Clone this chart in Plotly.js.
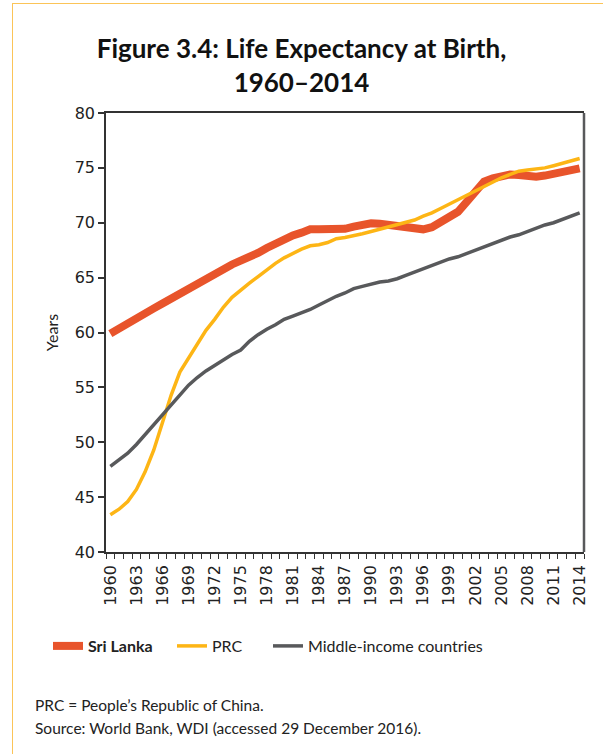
<!DOCTYPE html>
<html>
<head>
<meta charset="utf-8">
<script src="https://cdn.plot.ly/plotly-3.0.1.min.js"></script>
<style>
  body { margin: 0; background: #fff; }
  #frame { position: absolute; left: 12px; top: 3px; width: 600px; height: 760px;
           border-top: 1.5px solid #FBC458; border-left: 1.5px solid #FBC458; }
  #chart { position: absolute; left: 0; top: 0; width: 603px; height: 754px; }
</style>
</head>
<body>
<div id="frame"></div>
<div id="chart"></div>
<script>
// years 1960-2014
const years = [];
for (let y = 1960; y <= 2014; y++) years.push(y);

// life expectancy at birth
const sriLanka = [59.9, 60.4, 60.85, 61.3, 61.75, 62.2, 62.65, 63.1, 63.55, 64.0,
  64.45, 65.0, 65.45, 65.85, 66.2, 66.55, 66.85, 67.25, 67.7, 68.15,
  68.55, 68.85, 69.1, 69.4, 69.4, 69.4, 69.4, 69.45, 69.65, 69.85,
  69.95, 69.9, 69.8, 69.7, 69.6, 69.5, 69.4, 69.6, 70.1, 70.5,
  71.0, 71.9, 72.9, 73.75, 74.05, 74.3, 74.4, 74.35, 74.25, 74.2,
  74.3, 74.45, 74.6, 74.8, 74.95];
const prc = [43.4, 43.9, 44.6, 45.7, 47.3, 49.3, 51.8, 54.3, 56.4, 57.7,
  59.0, 60.2, 61.2, 62.3, 63.2, 63.9, 64.5, 65.1, 65.7, 66.3,
  66.8, 67.2, 67.6, 67.9, 68.0, 68.2, 68.55, 68.65, 68.8, 69.0,
  69.2, 69.4, 69.6, 69.85, 70.05, 70.25, 70.6, 70.9, 71.3, 71.7,
  72.1, 72.5, 72.9, 73.3, 73.7, 74.1, 74.4, 74.7, 74.8, 74.9,
  75.0, 75.2, 75.4, 75.65, 75.85];
const middleIncome = [47.8, 48.4, 49.0, 49.8, 50.7, 51.6, 52.6, 53.5, 54.4, 55.2,
  55.9, 56.5, 57.0, 57.5, 58.0, 58.4, 59.2, 59.8, 60.3, 60.7,
  61.2, 61.5, 61.8, 62.1, 62.5, 62.9, 63.3, 63.6, 64.0, 64.2,
  64.4, 64.6, 64.7, 64.9, 65.2, 65.5, 65.8, 66.1, 66.4, 66.7,
  66.9, 67.2, 67.5, 67.8, 68.1, 68.4, 68.7, 68.9, 69.2, 69.5,
  69.8, 70.0, 70.3, 70.6, 70.9];

const labelYears = years.filter((y, i) => i % 3 === 0).concat([2014]);

const traces = [
  { x: years, y: sriLanka, type: 'scatter', mode: 'lines', name: '<b>Sri Lanka</b>',
    line: { color: '#E8542B', width: 8 } },
  { x: years, y: prc, type: 'scatter', mode: 'lines', name: 'PRC',
    line: { color: '#FDB515', width: 3.5 }, legend: 'legend3' },
  { x: years, y: middleIncome, type: 'scatter', mode: 'lines', name: 'Middle-income countries',
    line: { color: '#58595B', width: 3.5 }, legend: 'legend2' }
];

const legendFont = { family: 'Lato', size: 16, color: '#222' };
// one small legend per entry so the gaps can follow the original
function legendAt(px) {
  return {
    orientation: 'h', xref: 'container', yref: 'container',
    x: px / 603, y: 1 - 629 / 754, xanchor: 'left', yanchor: 'top',
    font: legendFont, itemwidth: 30, tracegroupgap: 0
  };
}

const layout = {
  width: 603, height: 754,
  margin: { l: 106, r: 19, t: 113, b: 202 },
  paper_bgcolor: 'rgba(0,0,0,0)',
  plot_bgcolor: '#fff',
  showlegend: true,
  title: {
    text: 'Figure 3.4: Life Expectancy at Birth,<br>1960–2014',
    font: { family: 'Lato', size: 26, color: '#111', weight: 'bold' },
    x: 0.5, xref: 'container', y: 1 - 58 / 754, yref: 'container', yanchor: 'top'
  },
  xaxis: {
    range: [1959.5, 2014.5],
    tickvals: labelYears,
    ticktext: labelYears.map(String),
    tickangle: -90,
    ticks: '', showgrid: false, zeroline: false,
    ticklabelstandoff: 5,
    showline: true, linecolor: '#333', linewidth: 1.5, mirror: true,
    tickfont: { family: 'DejaVu Sans', size: 16, color: '#222' },
    minor: { tick0: 1959.5, dtick: 1, ticks: 'outside', ticklen: 5, tickcolor: '#333', tickwidth: 1, showgrid: false }
  },
  yaxis: {
    range: [40, 80], dtick: 5,
    ticks: 'outside', ticklen: 6, tickcolor: '#333', tickwidth: 1.5,
    showgrid: false, zeroline: false,
    showline: true, linecolor: '#333', linewidth: 1.5,
    tickfont: { family: 'DejaVu Sans', size: 16, color: '#222' },
    title: { text: 'Years', standoff: 12, font: { family: 'Lato', size: 16, color: '#222' } }
  },
  legend: legendAt(48),
  legend3: legendAt(172),
  legend2: legendAt(268),
  shapes: [
    { type: 'line', xref: 'paper', yref: 'paper', x0: 1, x1: 1, y0: 0, y1: 1,
      line: { color: '#58595B', width: 2.5 } }
  ],
  annotations: [
    { xref: 'paper', yref: 'paper', x: (33 - 106) / 478, y: (552 - 705) / 439,
      xanchor: 'left', yanchor: 'middle', align: 'left', showarrow: false,
      text: 'PRC = People’s Republic of China.',
      font: { family: 'Lato', size: 15.5, color: '#222' } },
    { xref: 'paper', yref: 'paper', x: (33 - 106) / 478, y: (552 - 728) / 439,
      xanchor: 'left', yanchor: 'middle', align: 'left', showarrow: false,
      text: 'Source: World Bank, WDI (accessed 29 December 2016).',
      font: { family: 'Lato', size: 15.5, color: '#222' } }
  ]
};

Plotly.newPlot('chart', traces, layout, { displayModeBar: false });
</script>
</body>
</html>
